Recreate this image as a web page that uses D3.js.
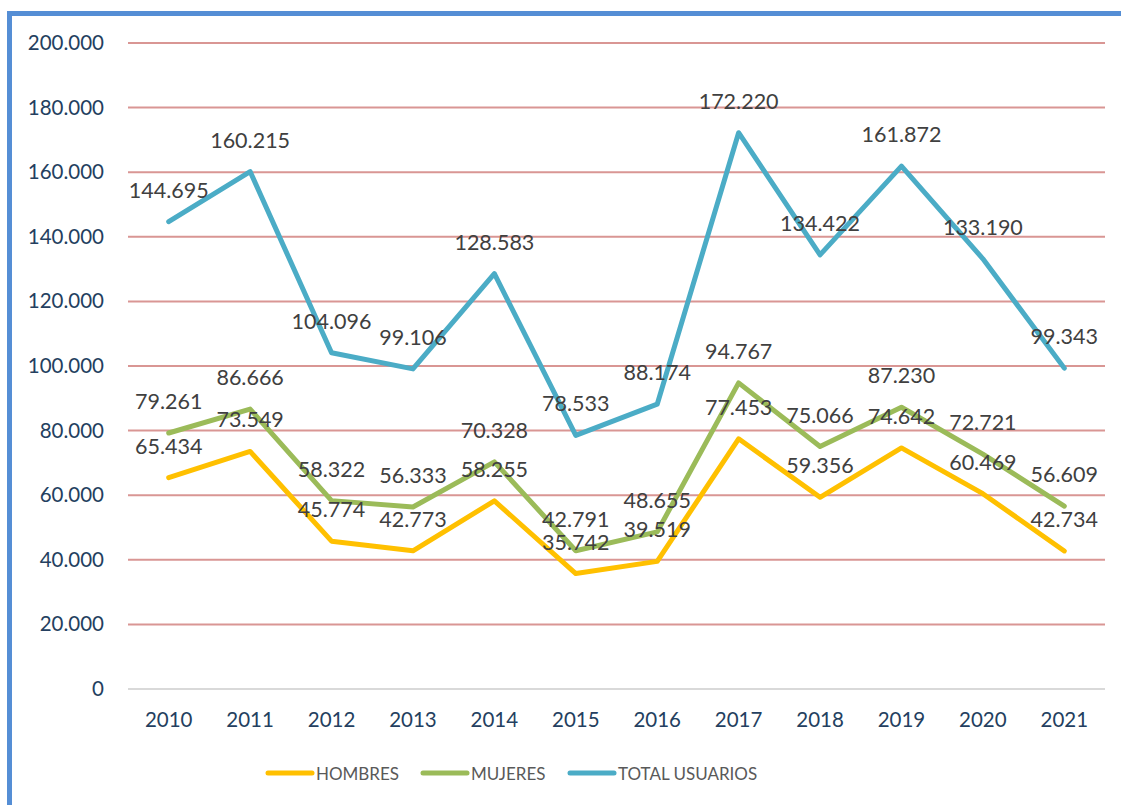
<!DOCTYPE html>
<html><head><meta charset="utf-8">
<script src="https://cdn.jsdelivr.net/npm/d3@7"></script>
<style>
html,body{margin:0;padding:0;background:#fff;}
svg{display:block;}
</style></head>
<body>
<svg id="chart" width="1121" height="805"></svg>
<script>
const years = ["2010","2011","2012","2013","2014","2015","2016","2017","2018","2019","2020","2021"];
const hombres = [65434,73549,45774,42773,58255,35742,39519,77453,59356,74642,60469,42734];
const mujeres = [79261,86666,58322,56333,70328,42791,48655,94767,75066,87230,72721,56609];
const total = [144695,160215,104096,99106,128583,78533,88174,172220,134422,161872,133190,99343];
const yTicks = [0,20000,40000,60000,80000,100000,120000,140000,160000,180000,200000];
const seriesNames = ["HOMBRES","MUJERES","TOTAL USUARIOS"];
const seriesColors = ["#FFC000","#9BBB59","#4BACC6"];

const svg = d3.select("#chart");
const font = "Lato, 'Open Sans', sans-serif";

// frame border
svg.append("rect").attr("x",9.5).attr("y",13.5).attr("width",1130).attr("height",820)
  .attr("fill","none").attr("stroke","#558ED5").attr("stroke-width",5);

const x = d3.scaleBand().domain(years).range([128,1105]);
const y = d3.scaleLinear().domain([0,200000]).range([689,43]);
const fmt = v => d3.format(",")(v).replace(/,/g,".");

// gridlines
svg.append("g").selectAll("line").data(yTicks).join("line")
  .attr("x1",128).attr("x2",1105)
  .attr("y1",d=>y(d)).attr("y2",d=>y(d))
  .attr("stroke",d=>d===0?"#D9D9D9":"#D99694").attr("stroke-width",2);

// y axis labels
const yAxis = d3.axisLeft(y).tickValues(yTicks).tickSize(0).tickPadding(0).tickFormat(fmt);
const yg = svg.append("g").attr("transform","translate(104,0)").call(yAxis);
yg.select(".domain").remove();
yg.selectAll("text").attr("font-family",font).attr("font-size",20.5).attr("fill","#243F60");

// x axis labels
const xAxis = d3.axisBottom(x).tickSize(0).tickPadding(0);
const xg = svg.append("g").attr("transform","translate(0,712)").call(xAxis);
xg.select(".domain").remove();
xg.selectAll("text").attr("font-family",font).attr("font-size",20.5).attr("fill","#243F60").attr("dy","0.71em");

const cx = d => x(d) + x.bandwidth()/2;
const line = d3.line().x((d,i)=>cx(years[i])).y(d=>y(d));

const data = [hombres,mujeres,total];
data.forEach((s,k)=>{
  svg.append("path").datum(s).attr("d",line).attr("fill","none")
    .attr("stroke",seriesColors[k]).attr("stroke-width",5).attr("stroke-linejoin","round").attr("stroke-linecap","round");
});
data.forEach((s,k)=>{
  svg.append("g").selectAll("text").data(s).join("text")
    .attr("x",(d,i)=>cx(years[i])).attr("y",d=>y(d)-32)
    .attr("dominant-baseline","central").attr("text-anchor","middle")
    .attr("font-family",font).attr("font-size",21.5).attr("fill","#404040")
    .text(d=>fmt(d));
});

// legend
const legX = [268,423,570];
seriesNames.forEach((n,k)=>{
  svg.append("line").attr("x1",legX[k]).attr("x2",legX[k]+44).attr("y1",773).attr("y2",773)
    .attr("stroke",seriesColors[k]).attr("stroke-width",5).attr("stroke-linecap","round");
  svg.append("text").attr("x",legX[k]+48).attr("y",773).attr("dominant-baseline","central")
    .attr("font-family",font).attr("font-size",17).attr("fill","#595959").text(n);
});
</script>
</body></html>
